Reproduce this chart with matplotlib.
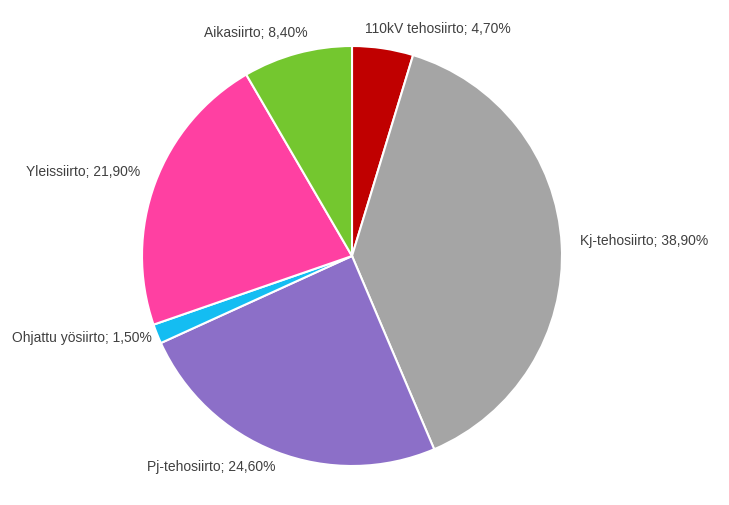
import matplotlib.pyplot as plt

labels = ["110kV tehosiirto", "Kj-tehosiirto", "Pj-tehosiirto",
          "Ohjattu yösiirto", "Yleissiirto", "Aikasiirto"]
shares = [4.70, 38.90, 24.60, 1.50, 21.90, 8.40]
colors = ["#C00000", "#A5A5A5", "#8C6FC8", "#14BDF2", "#FF40A2", "#74C72F"]

# small label nudges (pixels, x right / y up) to mimic the original placement
nudges = [(-21, 0), (-3, 4), (7, 5), (14, 5), (5, 5), (16, 1)]

plt.rcParams['font.family'] = ['Liberation Sans', 'DejaVu Sans']

fig = plt.figure(figsize=(7.29, 5.06), dpi=100)
# pie centre ~ (352, 257) px, radius ~210 px; pie() sets limits to +-1.25
radius_px = 210
ax = fig.add_axes([(352 - 2.5 * radius_px / 2) / 729, (249 - 2.5 * radius_px / 2) / 506,
                   2.5 * radius_px / 729, 2.5 * radius_px / 506])

texts = ["%s; %s%%" % (l, ("%.2f" % v).replace(".", ",")) for l, v in zip(labels, shares)]
wedges, label_texts = ax.pie(shares, labels=texts, colors=colors, startangle=90,
                             counterclock=False, labeldistance=1.1,
                             wedgeprops=dict(edgecolor="white", linewidth=1.5),
                             textprops=dict(fontsize=10, color="#404040"))

for t, (dx, dy) in zip(label_texts, nudges):
    x, y = t.get_position()
    t.set_position((x + dx / radius_px, y + dy / radius_px))

fig.savefig("out.png", dpi=100)
